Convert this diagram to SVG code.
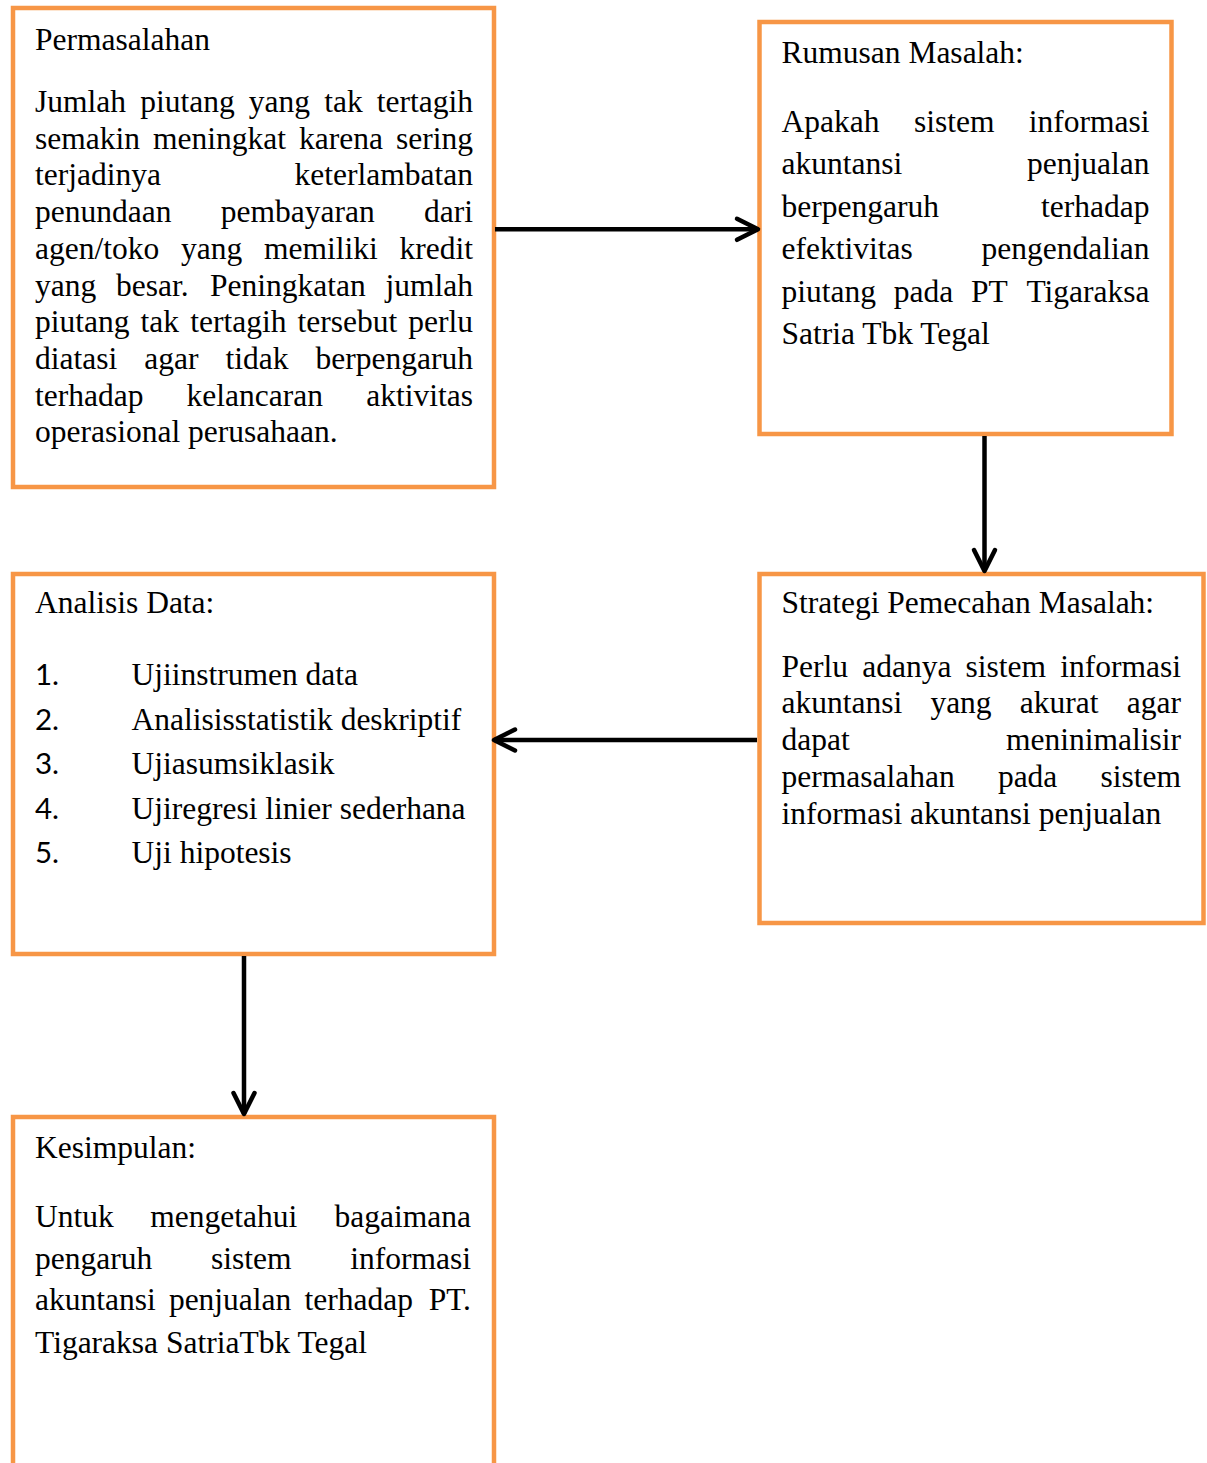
<svg xmlns="http://www.w3.org/2000/svg" width="1207" height="1463" viewBox="0 0 1207 1463">
<style>
.box{fill:#fff;stroke:#F79646;stroke-width:4.5}
.t{font-family:"Liberation Serif","Times New Roman",serif;font-size:31.5px;fill:#000}
.e{text-anchor:end}
.n{font-family:Lato,"Open Sans","Liberation Sans",sans-serif;font-size:29.5px;fill:#000}
.c{stroke:#000;stroke-width:4.5;fill:none}
</style>
<defs>
<marker id="arr" markerUnits="userSpaceOnUse" viewBox="-26 -15 30 30" markerWidth="30" markerHeight="30" refX="0" refY="0" orient="auto" overflow="visible">
<path d="M-21,-10.5 L0,0 L-21,10.5" fill="none" stroke="#000" stroke-width="4.5" stroke-linecap="round" stroke-linejoin="round"/>
</marker>
</defs>
<rect width="1207" height="1463" fill="#fff"/>

<g id="permasalahan">
<rect class="box" x="13" y="8" width="481" height="479"/>
<text class="t" x="35" y="50">Permasalahan</text>
<text class="t" y="112"><tspan x="35">Jumlah</tspan><tspan x="140.2">piutang</tspan><tspan x="248.8">yang</tspan><tspan x="324.2">tak</tspan></text>
<text class="t e" x="473" y="112">tertagih</text>
<text class="t" y="148.7"><tspan x="35">semakin</tspan><tspan x="153">meningkat</tspan><tspan x="299.1">karena</tspan></text>
<text class="t e" x="473" y="148.7">sering</text>
<text class="t" x="35" y="185.4">terjadinya</text>
<text class="t e" x="473" y="185.4">keterlambatan</text>
<text class="t" y="222.1"><tspan x="35">penundaan</tspan><tspan x="220.8">pembayaran</tspan></text>
<text class="t e" x="473" y="222.1">dari</text>
<text class="t" y="258.8"><tspan x="35">agen/toko</tspan><tspan x="181">yang</tspan><tspan x="264">memiliki</tspan></text>
<text class="t e" x="473" y="258.8">kredit</text>
<text class="t" y="295.5"><tspan x="35">yang</tspan><tspan x="116">besar.</tspan><tspan x="210.1">Peningkatan</tspan></text>
<text class="t e" x="473" y="295.5">jumlah</text>
<text class="t" y="332.2"><tspan x="35">piutang</tspan><tspan x="140.6">tak</tspan><tspan x="190.2">tertagih</tspan><tspan x="297.5">tersebut</tspan></text>
<text class="t e" x="473" y="332.2">perlu</text>
<text class="t" y="368.9"><tspan x="35">diatasi</tspan><tspan x="144.3">agar</tspan><tspan x="225.6">tidak</tspan></text>
<text class="t e" x="473" y="368.9">berpengaruh</text>
<text class="t" y="405.6"><tspan x="35">terhadap</tspan><tspan x="186.6">kelancaran</tspan></text>
<text class="t e" x="473" y="405.6">aktivitas</text>
<text class="t" x="35" y="442.3">operasional perusahaan.</text>
</g>

<g id="rumusan">
<rect class="box" x="759.5" y="22" width="412" height="412"/>
<text class="t" x="781.5" y="63.3">Rumusan Masalah:</text>
<text class="t" y="131.5"><tspan x="781.5">Apakah</tspan><tspan x="913.9">sistem</tspan></text>
<text class="t e" x="1149.5" y="131.5">informasi</text>
<text class="t" x="781.5" y="174">akuntansi</text>
<text class="t e" x="1149.5" y="174">penjualan</text>
<text class="t" x="781.5" y="216.5">berpengaruh</text>
<text class="t e" x="1149.5" y="216.5">terhadap</text>
<text class="t" x="781.5" y="259">efektivitas</text>
<text class="t e" x="1149.5" y="259">pengendalian</text>
<text class="t" y="301.5"><tspan x="781.5">piutang</tspan><tspan x="893.7">pada</tspan><tspan x="970.9">PT</tspan></text>
<text class="t e" x="1149.5" y="301.5">Tigaraksa</text>
<text class="t" x="781.5" y="344">Satria Tbk Tegal</text>
</g>

<g id="strategi">
<rect class="box" x="759.5" y="574" width="444" height="349"/>
<text class="t" x="781.5" y="613.3">Strategi Pemecahan Masalah:</text>
<text class="t" y="676.7"><tspan x="781.5">Perlu</tspan><tspan x="862.2">adanya</tspan><tspan x="965.6">sistem</tspan></text>
<text class="t e" x="1181" y="676.7">informasi</text>
<text class="t" y="713.4"><tspan x="781.5">akuntansi</tspan><tspan x="930.4">yang</tspan><tspan x="1019.8">akurat</tspan></text>
<text class="t e" x="1181" y="713.4">agar</text>
<text class="t" x="781.5" y="750.1">dapat</text>
<text class="t e" x="1181" y="750.1">meninimalisir</text>
<text class="t" y="786.8"><tspan x="781.5">permasalahan</tspan><tspan x="997.9">pada</tspan></text>
<text class="t e" x="1181" y="786.8">sistem</text>
<text class="t" x="781.5" y="823.5">informasi akuntansi penjualan</text>
</g>

<g id="analisis">
<rect class="box" x="13" y="574" width="481" height="380"/>
<text class="t" x="35" y="613.3">Analisis Data:</text>
<text class="n" x="35" y="685">1.</text>
<text class="t" x="131.5" y="685">Ujiinstrumen data</text>
<text class="n" x="35" y="729.6">2.</text>
<text class="t" x="131.5" y="729.6">Analisisstatistik deskriptif</text>
<text class="n" x="35" y="774.2">3.</text>
<text class="t" x="131.5" y="774.2">Ujiasumsiklasik</text>
<text class="n" x="35" y="818.8">4.</text>
<text class="t" x="131.5" y="818.8">Ujiregresi linier sederhana</text>
<text class="n" x="35" y="863.4">5.</text>
<text class="t" x="131.5" y="863.4">Uji hipotesis</text>
</g>

<g id="kesimpulan">
<rect class="box" x="13" y="1117" width="481" height="400"/>
<text class="t" x="35" y="1158.3">Kesimpulan:</text>
<text class="t" y="1226.7"><tspan x="35">Untuk</tspan><tspan x="150.2">mengetahui</tspan></text>
<text class="t e" x="471" y="1226.7">bagaimana</text>
<text class="t" y="1268.5"><tspan x="35">pengaruh</tspan><tspan x="211">sistem</tspan></text>
<text class="t e" x="471" y="1268.5">informasi</text>
<text class="t" y="1310.3"><tspan x="35">akuntansi</tspan><tspan x="168.9">penjualan</tspan><tspan x="304.6">terhadap</tspan></text>
<text class="t e" x="471" y="1310.3">PT.</text>
<text class="t" x="35" y="1352.5">Tigaraksa SatriaTbk Tegal</text>
</g>

<g id="connectors">
<line class="c" x1="495" y1="229.3" x2="758" y2="229.3" marker-end="url(#arr)"/>
<line class="c" x1="984.5" y1="436" x2="984.5" y2="571" marker-end="url(#arr)"/>
<line class="c" x1="757" y1="740" x2="494" y2="740" marker-end="url(#arr)"/>
<line class="c" x1="244" y1="956" x2="244" y2="1114" marker-end="url(#arr)"/>
</g>
</svg>
